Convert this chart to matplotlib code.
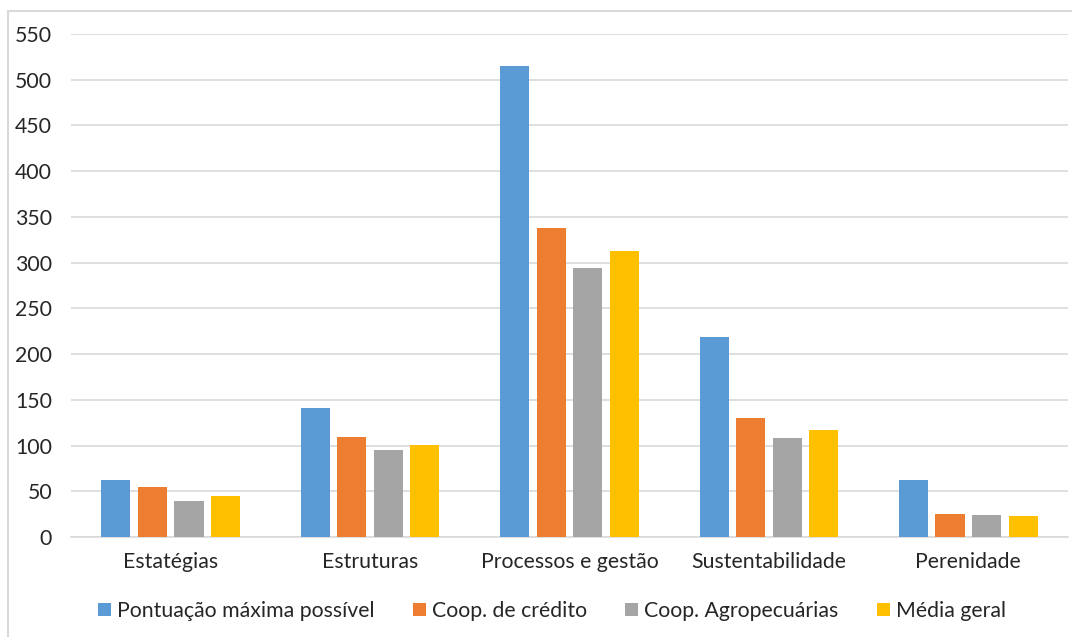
import matplotlib
matplotlib.use("Agg")
import matplotlib.pyplot as plt
import numpy as np
from matplotlib.patches import Rectangle

categories = ["Estatégias", "Estruturas", "Processos e gestão", "Sustentabilidade", "Perenidade"]
series_names = ["Pontuação máxima possível", "Coop. de crédito", "Coop. Agropecuárias", "Média geral"]
pontuacao_maxima = [62, 141, 515, 219, 62]
coop_credito = [55, 109, 338, 130, 25]
coop_agro = [39, 95, 294, 108, 24]
media_geral = [45, 101, 313, 117, 23]
colors = ["#5B9BD5", "#ED7D31", "#A5A5A5", "#FFC000"]
yticks = list(range(0, 551, 50))

plt.rcParams['font.family'] = ['Lato', 'DejaVu Sans']
txt = "#262626"
fs = 15.3

fig = plt.figure(figsize=(10.72, 6.37), dpi=100)
ax = fig.add_axes([71/1072, 1-537/637, (1068-71)/1072, (537-34)/637])

series = [pontuacao_maxima, coop_credito, coop_agro, media_geral]
x = np.arange(len(categories))
pitch = 36.5/199
bw = 29/199
for i, (vals, name, c) in enumerate(zip(series, series_names, colors)):
    ax.bar(x + (i-1.5)*pitch, vals, bw, color=c, label=name, zorder=3)

ax.set_xlim(-0.5, len(categories)-0.5)
ax.set_ylim(0, 550)
ax.set_yticks(yticks)
ax.set_yticklabels([str(t) for t in yticks])
ax.set_xticks(x)
ax.set_xticklabels(categories)
ax.tick_params(axis='both', length=0, labelsize=fs, colors=txt)
ax.tick_params(axis='y', pad=13.5)
ax.tick_params(axis='x', pad=11)
ax.grid(axis='y', color='#D9D9D9', linewidth=1.2, zorder=0)
for s in ['top', 'right', 'left']:
    ax.spines[s].set_visible(False)
ax.spines['bottom'].set_color('#D9D9D9')
ax.spines['bottom'].set_linewidth(1.2)
ax.set_axisbelow(True)

leg = fig.legend(loc='center', bbox_to_anchor=(552/1072, 1-611/637), ncol=4, frameon=False,
                 fontsize=fs, handlelength=0.6, handleheight=0.6, handletextpad=0.3,
                 columnspacing=1.8, labelcolor=txt)

fig.patches.append(Rectangle((8/1072, -0.1), 1.2, 1.1-11/637, transform=fig.transFigure,
                             fill=False, edgecolor='#D9D9D9', linewidth=1.5))

fig.savefig("out.png", dpi=100)
